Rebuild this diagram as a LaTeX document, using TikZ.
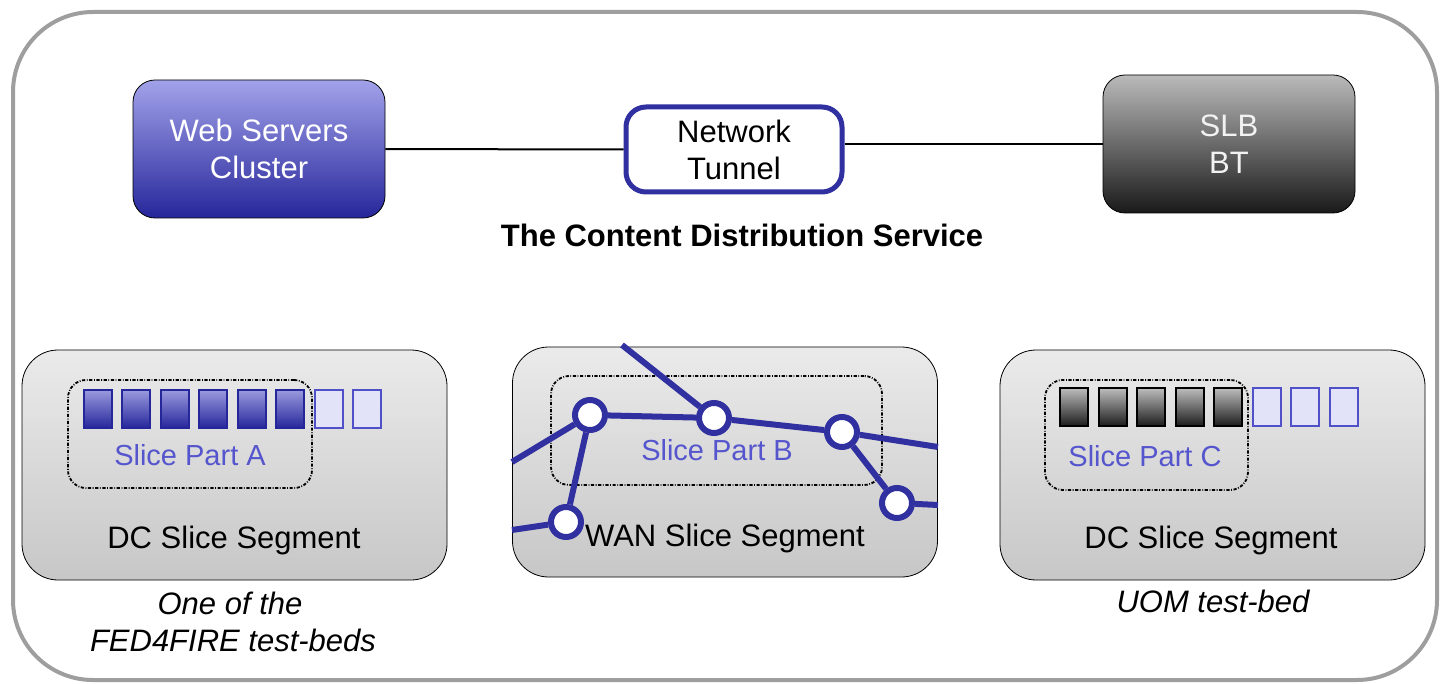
\documentclass[tikz,border=0pt]{standalone}
\usepackage{fontspec}
\setmainfont{Liberation Sans}
\definecolor{webtop}{RGB}{162,162,234}
\definecolor{webbot}{RGB}{38,38,155}
\definecolor{wanblue}{RGB}{48,48,160}
\definecolor{partblue}{RGB}{85,85,205}
\definecolor{slotlight}{RGB}{226,226,249}
\definecolor{slotedge}{RGB}{80,80,200}
\begin{document}
\begin{tikzpicture}[x=0.5pt,y=-0.5pt]
	\tikzstyle{txt} = [font=\fontsize{15.5}{18.5}\selectfont, inner sep=0, align=center]
	\tikzstyle{small} = [font=\fontsize{14.5}{17}\selectfont, inner sep=0, text=partblue]
	\tikzstyle{server} = [draw=black, rounded corners=11pt, minimum width=126pt, minimum height=69pt, align=center, font=\fontsize{15.5}{18.5}\selectfont]
	\tikzstyle{segment} = [draw=black, rounded corners=18pt, minimum width=212.5pt, minimum height=115pt, top color=black!8, bottom color=black!22]
	\tikzstyle{part} = [draw=black, line width=0.9pt, dash pattern=on 1.6pt off 0.8pt on 0.4pt off 0.8pt, rounded corners=9pt]
	\tikzstyle{slot} = [line width=1pt, minimum width=14pt, minimum height=19pt, inner sep=0]
	\tikzstyle{router} = [circle, draw=wanblue, line width=3pt, fill=white, minimum size=15pt, inner sep=0]
	\tikzstyle{link} = [draw=wanblue, line width=3pt]

	\useasboundingbox (0,0) rectangle (1441,684);
	\draw [black!38, line width=2pt, rounded corners=40pt] (13,12) rectangle (1437,680);

	% the service
	\node [server, top color=webtop, bottom color=webbot, text=white] (web) at (259,149) {Web Servers\\Cluster};
	\node [server, draw=wanblue, line width=2.5pt, fill=white, rounded corners=10pt, minimum width=108pt, minimum height=42.5pt] (tunnel) at (734,149.5) {Network\\Tunnel};
	\node [server, top color=black!27, bottom color=black!90, text=black!5] (slb) at (1229,144) {SLB\\BT};
	\draw [line width=1pt] (web) -- (tunnel);
	\draw [line width=1pt] (tunnel.east |- slb.west) -- (slb.west);
	\node [txt, font=\fontsize{15.5}{18.5}\selectfont\bfseries] (service) at (742,235) {The Content Distribution Service};

	% first DC segment
	\begin{scope}
	\node [segment] (segA) at (234.5,465) {};
	\node [part, minimum width=122pt, minimum height=54pt] (partA) at (190,434) {};
	\foreach \i in {0,...,5}
		\node [slot, draw=webbot, top color=webtop!95!black, bottom color=webbot] (a\i) at ({97.5+38.5*\i},409) {};
	\foreach \i in {6,7}
		\node [slot, draw=slotedge, fill=slotlight] (a\i) at ({97.5+38.5*\i},409) {};
	\node [small] (nameA) at (190,455) {Slice Part A};
	\node [txt] (segnameA) at (234,540) {DC Slice Segment};
	\end{scope}
	\node [txt, font=\fontsize{15.5}{18.5}\selectfont\itshape] (bedA1) at (230,603) {One of the};
	\node [txt, font=\fontsize{15.5}{18.5}\selectfont\itshape] (bedA2) at (233,640) {FED4FIRE test-beds};

	% WAN segment
	\begin{scope}
	\node [segment] (segB) at (725,462) {};
	\node [part, minimum width=165.5pt, minimum height=54.5pt] (partB) at (716.5,430.5) {};
	\node [small] (nameB) at (717,450) {Slice Part B};
	\node [txt] (segnameB) at (725,538) {WAN Slice Segment};
	\node [router] (n1) at (590,415) {};
	\node [router] (n2) at (714,418) {};
	\node [router] (n3) at (842,432) {};
	\node [router] (n4) at (897,503) {};
	\node [router] (n5) at (566,522) {};
	\coordinate (top) at (622,345);
	\coordinate (west1) at (512,462);
	\coordinate (west2) at (512,530);
	\coordinate (east1) at (938,447);
	\coordinate (east2) at (938,505);
	\draw [link] (top) -- (n2);
	\draw [link] (west1) -- (n1);
	\draw [link] (n1) -- (n2);
	\draw [link] (n2) -- (n3);
	\draw [link] (n3) -- (east1);
	\draw [link] (n3) -- (n4);
	\draw [link] (n4) -- (east2);
	\draw [link] (n1) -- (n5);
	\draw [link] (n5) -- (west2);
	\end{scope}

	% second DC segment
	\begin{scope}
	\node [segment] (segC) at (1212.5,465) {};
	\node [part, minimum width=101.5pt, minimum height=55pt] (partC) at (1146.5,435) {};
	\foreach \i in {0,...,4}
		\node [slot, draw=black, top color=black!25, bottom color=black!88] (c\i) at ({1074+38.5*\i},406.5) {};
	\foreach \i in {5,6,7}
		\node [slot, draw=slotedge, fill=slotlight] (c\i) at ({1074+38.5*\i},406.5) {};
	\node [small] (nameC) at (1145,456) {Slice Part C};
	\node [txt] (segnameC) at (1211,540) {DC Slice Segment};
	\end{scope}
	\node [txt, font=\fontsize{15.5}{18.5}\selectfont\itshape] (bedC) at (1213,601) {UOM test-bed};
\end{tikzpicture}
\end{document}
